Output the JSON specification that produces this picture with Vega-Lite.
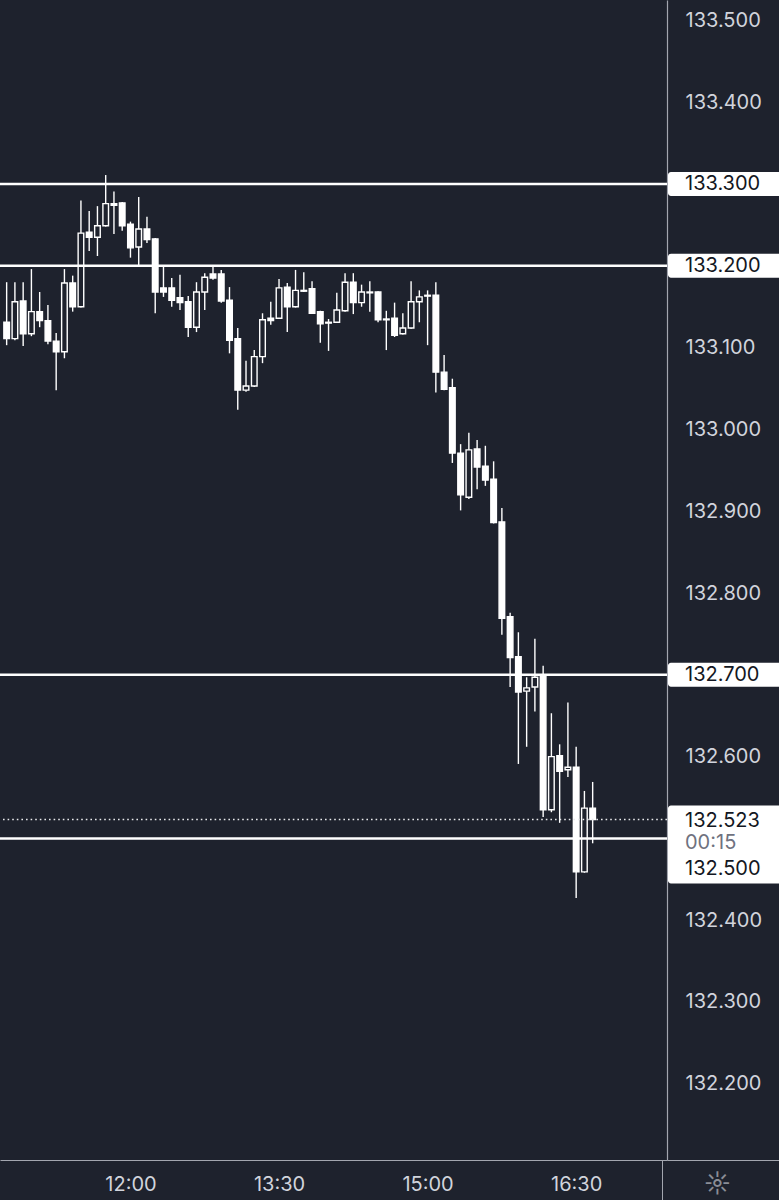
{
  "$schema": "https://vega.github.io/schema/vega-lite/v6.json",
  "width": 667,
  "height": 1160,
  "padding": {"left": 0, "top": 0, "right": 112, "bottom": 40},
  "autosize": {"type": "none"},
  "background": "#1e222d",
  "config": {"view": {"stroke": null}, "font": "Inter"},
  "datasets": {
    "candles": [
      {"t": "2022-12-08T10:45", "o": 133.131, "h": 133.180, "l": 133.103, "c": 133.111},
      {"t": "2022-12-08T10:50", "o": 133.111, "h": 133.180, "l": 133.109, "c": 133.156},
      {"t": "2022-12-08T10:55", "o": 133.157, "h": 133.180, "l": 133.102, "c": 133.117},
      {"t": "2022-12-08T11:00", "o": 133.117, "h": 133.196, "l": 133.114, "c": 133.144},
      {"t": "2022-12-08T11:05", "o": 133.144, "h": 133.168, "l": 133.125, "c": 133.133},
      {"t": "2022-12-08T11:10", "o": 133.133, "h": 133.152, "l": 133.104, "c": 133.108},
      {"t": "2022-12-08T11:15", "o": 133.108, "h": 133.118, "l": 133.048, "c": 133.095},
      {"t": "2022-12-08T11:20", "o": 133.095, "h": 133.196, "l": 133.087, "c": 133.179},
      {"t": "2022-12-08T11:25", "o": 133.179, "h": 133.188, "l": 133.144, "c": 133.150},
      {"t": "2022-12-08T11:30", "o": 133.150, "h": 133.280, "l": 133.149, "c": 133.240},
      {"t": "2022-12-08T11:35", "o": 133.241, "h": 133.267, "l": 133.218, "c": 133.235},
      {"t": "2022-12-08T11:40", "o": 133.235, "h": 133.273, "l": 133.212, "c": 133.249},
      {"t": "2022-12-08T11:45", "o": 133.249, "h": 133.311, "l": 133.248, "c": 133.276},
      {"t": "2022-12-08T11:50", "o": 133.276, "h": 133.291, "l": 133.239, "c": 133.274},
      {"t": "2022-12-08T11:55", "o": 133.277, "h": 133.278, "l": 133.243, "c": 133.249},
      {"t": "2022-12-08T12:00", "o": 133.251, "h": 133.254, "l": 133.210, "c": 133.222},
      {"t": "2022-12-08T12:05", "o": 133.223, "h": 133.284, "l": 133.201, "c": 133.245},
      {"t": "2022-12-08T12:10", "o": 133.245, "h": 133.260, "l": 133.228, "c": 133.232},
      {"t": "2022-12-08T12:15", "o": 133.233, "h": 133.234, "l": 133.142, "c": 133.168},
      {"t": "2022-12-08T12:20", "o": 133.173, "h": 133.199, "l": 133.162, "c": 133.168},
      {"t": "2022-12-08T12:25", "o": 133.173, "h": 133.185, "l": 133.150, "c": 133.158},
      {"t": "2022-12-08T12:30", "o": 133.161, "h": 133.189, "l": 133.146, "c": 133.155},
      {"t": "2022-12-08T12:35", "o": 133.156, "h": 133.163, "l": 133.113, "c": 133.125},
      {"t": "2022-12-08T12:40", "o": 133.125, "h": 133.180, "l": 133.119, "c": 133.168},
      {"t": "2022-12-08T12:45", "o": 133.168, "h": 133.191, "l": 133.146, "c": 133.186},
      {"t": "2022-12-08T12:50", "o": 133.190, "h": 133.199, "l": 133.183, "c": 133.185},
      {"t": "2022-12-08T12:55", "o": 133.190, "h": 133.195, "l": 133.155, "c": 133.157},
      {"t": "2022-12-08T13:00", "o": 133.158, "h": 133.174, "l": 133.093, "c": 133.109},
      {"t": "2022-12-08T13:05", "o": 133.111, "h": 133.124, "l": 133.024, "c": 133.048},
      {"t": "2022-12-08T13:10", "o": 133.048, "h": 133.084, "l": 133.046, "c": 133.053},
      {"t": "2022-12-08T13:15", "o": 133.053, "h": 133.097, "l": 133.052, "c": 133.089},
      {"t": "2022-12-08T13:20", "o": 133.089, "h": 133.142, "l": 133.081, "c": 133.134},
      {"t": "2022-12-08T13:25", "o": 133.136, "h": 133.156, "l": 133.128, "c": 133.133},
      {"t": "2022-12-08T13:30", "o": 133.136, "h": 133.184, "l": 133.135, "c": 133.173},
      {"t": "2022-12-08T13:35", "o": 133.174, "h": 133.179, "l": 133.119, "c": 133.150},
      {"t": "2022-12-08T13:40", "o": 133.150, "h": 133.195, "l": 133.149, "c": 133.170},
      {"t": "2022-12-08T13:45", "o": 133.170, "h": 133.192, "l": 133.168, "c": 133.169},
      {"t": "2022-12-08T13:50", "o": 133.172, "h": 133.181, "l": 133.141, "c": 133.142},
      {"t": "2022-12-08T13:55", "o": 133.144, "h": 133.145, "l": 133.106, "c": 133.129},
      {"t": "2022-12-08T14:00", "o": 133.131, "h": 133.135, "l": 133.096, "c": 133.130},
      {"t": "2022-12-08T14:05", "o": 133.131, "h": 133.167, "l": 133.130, "c": 133.146},
      {"t": "2022-12-08T14:10", "o": 133.145, "h": 133.191, "l": 133.144, "c": 133.180},
      {"t": "2022-12-08T14:15", "o": 133.180, "h": 133.191, "l": 133.141, "c": 133.155},
      {"t": "2022-12-08T14:20", "o": 133.155, "h": 133.177, "l": 133.150, "c": 133.168},
      {"t": "2022-12-08T14:25", "o": 133.168, "h": 133.181, "l": 133.144, "c": 133.167},
      {"t": "2022-12-08T14:30", "o": 133.168, "h": 133.169, "l": 133.131, "c": 133.134},
      {"t": "2022-12-08T14:35", "o": 133.135, "h": 133.145, "l": 133.097, "c": 133.134},
      {"t": "2022-12-08T14:40", "o": 133.136, "h": 133.155, "l": 133.113, "c": 133.115},
      {"t": "2022-12-08T14:45", "o": 133.117, "h": 133.142, "l": 133.116, "c": 133.124},
      {"t": "2022-12-08T14:50", "o": 133.124, "h": 133.181, "l": 133.123, "c": 133.156},
      {"t": "2022-12-08T14:55", "o": 133.156, "h": 133.170, "l": 133.131, "c": 133.162},
      {"t": "2022-12-08T15:00", "o": 133.164, "h": 133.170, "l": 133.103, "c": 133.163},
      {"t": "2022-12-08T15:05", "o": 133.164, "h": 133.180, "l": 133.045, "c": 133.070},
      {"t": "2022-12-08T15:10", "o": 133.070, "h": 133.091, "l": 133.048, "c": 133.049},
      {"t": "2022-12-08T15:15", "o": 133.051, "h": 133.062, "l": 132.959, "c": 132.971},
      {"t": "2022-12-08T15:20", "o": 132.971, "h": 132.982, "l": 132.901, "c": 132.920},
      {"t": "2022-12-08T15:25", "o": 132.917, "h": 132.996, "l": 132.915, "c": 132.975},
      {"t": "2022-12-08T15:30", "o": 132.976, "h": 132.987, "l": 132.927, "c": 132.954},
      {"t": "2022-12-08T15:35", "o": 132.955, "h": 132.980, "l": 132.931, "c": 132.938},
      {"t": "2022-12-08T15:40", "o": 132.939, "h": 132.961, "l": 132.885, "c": 132.886},
      {"t": "2022-12-08T15:45", "o": 132.887, "h": 132.904, "l": 132.749, "c": 132.769},
      {"t": "2022-12-08T15:50", "o": 132.771, "h": 132.776, "l": 132.685, "c": 132.721},
      {"t": "2022-12-08T15:55", "o": 132.722, "h": 132.752, "l": 132.591, "c": 132.679},
      {"t": "2022-12-08T16:00", "o": 132.680, "h": 132.697, "l": 132.612, "c": 132.684},
      {"t": "2022-12-08T16:05", "o": 132.685, "h": 132.744, "l": 132.655, "c": 132.697},
      {"t": "2022-12-08T16:10", "o": 132.700, "h": 132.711, "l": 132.526, "c": 132.535},
      {"t": "2022-12-08T16:15", "o": 132.535, "h": 132.653, "l": 132.532, "c": 132.600},
      {"t": "2022-12-08T16:20", "o": 132.601, "h": 132.615, "l": 132.519, "c": 132.582},
      {"t": "2022-12-08T16:25", "o": 132.584, "h": 132.666, "l": 132.575, "c": 132.587},
      {"t": "2022-12-08T16:30", "o": 132.587, "h": 132.612, "l": 132.427, "c": 132.459},
      {"t": "2022-12-08T16:35", "o": 132.459, "h": 132.558, "l": 132.458, "c": 132.537},
      {"t": "2022-12-08T16:40", "o": 132.537, "h": 132.569, "l": 132.494, "c": 132.523}
    ],
    "levels": [
      {"level": 133.3, "label": "133.300"},
      {"level": 133.2, "label": "133.200"},
      {"level": 132.7, "label": "132.700"},
      {"level": 132.5, "label": "132.500"}
    ],
    "price": [
      {"price": 132.523, "label": "132.523", "timer": "00:15", "level": 132.5, "levelLabel": "132.500"}
    ]
  },
  "layer": [
    {
      "data": {"name": "candles"},
      "mark": {"type": "rule", "color": "#ffffff", "strokeWidth": 1.4},
      "encoding": {
        "x": {
          "field": "t", "type": "temporal", "title": null,
          "scale": {"domain": [
            {"year": 2022, "month": 12, "date": 8, "hours": 10, "minutes": 44, "seconds": 0},
            {"year": 2022, "month": 12, "date": 8, "hours": 17, "minutes": 22}
          ]},
          "axis": {
            "title": null,
            "values": [
              {"year": 2022, "month": 12, "date": 8, "hours": 12, "minutes": 0},
              {"year": 2022, "month": 12, "date": 8, "hours": 13, "minutes": 30},
              {"year": 2022, "month": 12, "date": 8, "hours": 15, "minutes": 0},
              {"year": 2022, "month": 12, "date": 8, "hours": 16, "minutes": 30},
              {"year": 2022, "month": 12, "date": 8, "hours": 17, "minutes": 22}
            ],
            "labelExpr": "hours(datum.value) >= 17 ? '☼' : timeFormat(datum.value, '%H:%M')",
            "labelFlush": false,
            "labelOverlap": false,
            "labelBound": false,
            "labelFontSize": {"condition": {"test": "hours(datum.value) >= 17", "value": 26}, "value": 20},
            "labelColor": {"condition": {"test": "hours(datum.value) >= 17", "value": "#8a8d96"}, "value": "#d1d4dc"},
            "labelOffset": {"condition": {"test": "hours(datum.value) >= 17", "value": 55}, "value": 0},
            "labelBaseline": "middle",
            "labelPadding": -16,
            "tickSize": 40,
            "tickColor": "#a3a6af",
            "tickWidth": 1,
            "tickOpacity": {"condition": {"test": "hours(datum.value) >= 17", "value": 1}, "value": 0},
            "domainColor": "#a3a6af",
            "domainWidth": 1.2,
            "grid": false
          }
        },
        "y": {
          "field": "l", "type": "quantitative", "title": null,
          "scale": {"domain": [132.1068, 133.525], "nice": false, "zero": false},
          "axis": {
            "title": null,
            "orient": "right",
            "values": [133.5, 133.4, 133.1, 133.0, 132.9, 132.8, 132.6, 132.4, 132.3, 132.2, 132.1068],
            "labelExpr": "datum.value < 132.15 ? '' : format(datum.value, '.3f')",
            "labelFontSize": 20,
            "labelColor": "#d1d4dc",
            "labelAlign": "left",
            "labelBaseline": "middle",
            "labelPadding": -94,
            "labelFlush": false,
            "labelOverlap": false,
            "labelBound": false,
            "tickSize": 112,
            "tickColor": "#a3a6af",
            "tickOpacity": {"condition": {"test": "datum.value < 132.15", "value": 1}, "value": 0},
            "domainColor": "#a3a6af",
            "domainWidth": 1.2,
            "grid": false
          }
        },
        "y2": {"field": "h"}
      }
    },
    {
      "data": {"name": "candles"},
      "mark": {"type": "bar", "size": 5.6, "stroke": "#ffffff", "strokeWidth": 1.4},
      "encoding": {
        "x": {"field": "t", "type": "temporal", "title": null},
        "y": {"field": "o", "type": "quantitative", "title": null, "scale": {"domain": [132.1068, 133.525], "nice": false, "zero": false}},
        "y2": {"field": "c"},
        "fill": {"condition": {"test": "datum.c < datum.o", "value": "#ffffff"}, "value": "#1e222d"}
      }
    },
    {
      "data": {"name": "levels"},
      "mark": {"type": "rule", "color": "#ffffff", "strokeWidth": 2.5},
      "encoding": {
        "y": {"field": "level", "type": "quantitative", "title": null}
      }
    },
    {
      "data": {"name": "price"},
      "mark": {"type": "rule", "color": "#e8e9ec", "strokeWidth": 1.4, "strokeDash": [1.6, 3]},
      "encoding": {
        "y": {"field": "price", "type": "quantitative", "title": null}
      }
    },
    {
      "data": {"name": "levels"},
      "transform": [{"filter": "datum.level != 132.5"}],
      "mark": {"type": "rect", "fill": "#ffffff", "xOffset": 1, "x2Offset": 112, "yOffset": -12, "y2Offset": 12, "cornerRadiusTopLeft": 3, "cornerRadiusBottomLeft": 3},
      "encoding": {
        "x": {"value": "width"},
        "x2": {"value": "width"},
        "y": {"field": "level", "type": "quantitative", "title": null},
        "y2": {"field": "level"}
      }
    },
    {
      "data": {"name": "levels"},
      "transform": [{"filter": "datum.level != 132.5"}],
      "mark": {"type": "text", "align": "left", "baseline": "middle", "dx": 18, "fontSize": 20, "color": "#131722"},
      "encoding": {
        "x": {"value": "width"},
        "y": {"field": "level", "type": "quantitative", "title": null},
        "text": {"field": "label"}
      }
    },
    {
      "data": {"name": "price"},
      "mark": {"type": "rect", "fill": "#ffffff", "xOffset": 1, "x2Offset": 112, "yOffset": -14, "y2Offset": 45, "cornerRadiusTopLeft": 3, "cornerRadiusBottomLeft": 3},
      "encoding": {
        "x": {"value": "width"},
        "x2": {"value": "width"},
        "y": {"field": "price", "type": "quantitative", "title": null},
        "y2": {"field": "level"}
      }
    },
    {
      "data": {"name": "price"},
      "mark": {"type": "text", "align": "left", "baseline": "middle", "dx": 18, "dy": 1, "fontSize": 20, "color": "#131722"},
      "encoding": {
        "x": {"value": "width"},
        "y": {"field": "price", "type": "quantitative", "title": null},
        "text": {"field": "label"}
      }
    },
    {
      "data": {"name": "price"},
      "mark": {"type": "text", "align": "left", "baseline": "middle", "dx": 18, "dy": 23, "fontSize": 20, "color": "#6f7280"},
      "encoding": {
        "x": {"value": "width"},
        "y": {"field": "price", "type": "quantitative", "title": null},
        "text": {"field": "timer"}
      }
    },
    {
      "data": {"name": "price"},
      "mark": {"type": "text", "align": "left", "baseline": "middle", "dx": 18, "dy": 31, "fontSize": 20, "color": "#131722"},
      "encoding": {
        "x": {"value": "width"},
        "y": {"field": "level", "type": "quantitative", "title": null},
        "text": {"field": "levelLabel"}
      }
    }
  ]
}
